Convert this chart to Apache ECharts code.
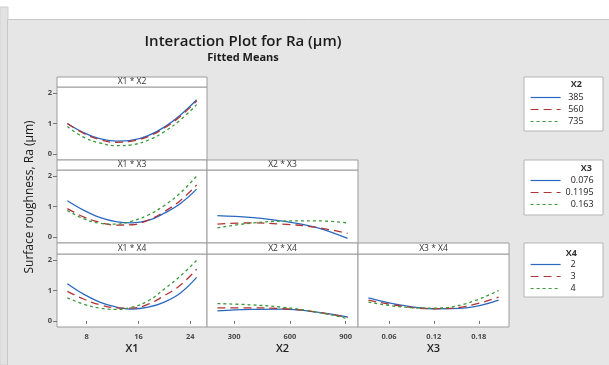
<!DOCTYPE html>
<html>
<head>
<meta charset="utf-8">
<script src="https://cdn.jsdelivr.net/npm/echarts@6/dist/echarts.min.js"></script>
<style>
  html, body { margin: 0; padding: 0; background: #fff; }
  #main { width: 609px; height: 365px; }
</style>
</head>
<body>
<div id="main"></div>
<script>
// factor settings (x positions of the fitted means)
const x1Values = [5, 7.5, 10, 12.5, 15, 17.5, 20, 22.5, 25];
const x2Values = [210, 385, 560, 735, 910];
const x3Values = [0.0325, 0.076, 0.1195, 0.163, 0.2065];

// legend levels
const x2Levels = ['385', '560', '735'];
const x3Levels = ['0.076', '0.1195', '0.163'];
const x4Levels = ['2', '3', '4'];

// X1 * X2 (one array per X2 level)
const x1x2Ra385 = [1.0, 0.70, 0.50, 0.42, 0.45, 0.60, 0.88, 1.28, 1.78];
const x1x2Ra560 = [1.0, 0.68, 0.47, 0.38, 0.42, 0.57, 0.85, 1.24, 1.74];
const x1x2Ra735 = [0.90, 0.55, 0.36, 0.27, 0.30, 0.45, 0.73, 1.12, 1.62];

// X1 * X3
const x1x3Ra0076 = [1.19, 0.88, 0.64, 0.50, 0.46, 0.54, 0.78, 1.10, 1.57];
const x1x3Ra01195 = [0.93, 0.66, 0.48, 0.39, 0.40, 0.55, 0.83, 1.20, 1.71];
const x1x3Ra0163 = [0.87, 0.60, 0.45, 0.42, 0.52, 0.72, 1.03, 1.45, 2.0];

// X1 * X4
const x1x4Ra2 = [1.22, 0.88, 0.62, 0.46, 0.39, 0.45, 0.62, 0.92, 1.43];
const x1x4Ra3 = [0.97, 0.72, 0.53, 0.43, 0.42, 0.55, 0.83, 1.18, 1.70];
const x1x4Ra4 = [0.76, 0.55, 0.42, 0.38, 0.45, 0.66, 1.05, 1.48, 1.99];

// X2 * X3
const x2x3Ra0076 = [0.70, 0.64, 0.52, 0.32, -0.05];
const x2x3Ra01195 = [0.42, 0.46, 0.42, 0.32, 0.12];
const x2x3Ra0163 = [0.30, 0.45, 0.52, 0.53, 0.46];

// X2 * X4
const x2x4Ra2 = [0.33, 0.38, 0.39, 0.30, 0.13];
const x2x4Ra3 = [0.43, 0.43, 0.40, 0.30, 0.11];
const x2x4Ra4 = [0.57, 0.53, 0.45, 0.30, 0.08];

// X3 * X4
const x3x4Ra2 = [0.76, 0.52, 0.40, 0.43, 0.68];
const x3x4Ra3 = [0.68, 0.49, 0.40, 0.48, 0.78];
const x3x4Ra4 = [0.62, 0.46, 0.42, 0.57, 1.0];

const yTicks = [0, 1, 2];
const x1Ticks = [8, 16, 24];
const x2Ticks = [300, 600, 900];
const x3Ticks = [0.06, 0.12, 0.18];

const dom = document.getElementById('main');
const myChart = echarts.init(dom, null, { renderer: 'canvas' });

const lineLooks = [
  { color: '#2a68c0', type: 'solid' },
  { color: '#b03434', type: [8, 5] },
  { color: '#3a9a3a', type: [3, 3] },
];

const colLeft = [57, 207, 358];
const colWidth = [150, 151, 151];
const headTop = [77, 160, 243];
const plotTop = [87, 170, 254];
const plotBottom = [160, 243, 327];

// panel: col, row, title, x range, x ticks (bottom row only), axis name
const panels = [
  { col: 0, row: 0, title: 'X1 * X2', min: 3.4, max: 26.6 },
  { col: 0, row: 1, title: 'X1 * X3', min: 3.4, max: 26.6 },
  { col: 0, row: 2, title: 'X1 * X4', min: 3.4, max: 26.6, ticks: x1Ticks, name: 'X1' },
  { col: 1, row: 1, title: 'X2 * X3', min: 154, max: 966 },
  { col: 1, row: 2, title: 'X2 * X4', min: 154, max: 966, ticks: x2Ticks, name: 'X2' },
  { col: 2, row: 2, title: 'X3 * X4', min: 0.0186, max: 0.2204, ticks: x3Ticks, name: 'X3' },
];

const seriesSets = [
  { grid: 0, xs: x1Values, names: x2Levels, ys: [x1x2Ra385, x1x2Ra560, x1x2Ra735] },
  { grid: 1, xs: x1Values, names: x3Levels, ys: [x1x3Ra0076, x1x3Ra01195, x1x3Ra0163] },
  { grid: 2, xs: x1Values, names: x4Levels, ys: [x1x4Ra2, x1x4Ra3, x1x4Ra4] },
  { grid: 3, xs: x2Values, names: x3Levels, ys: [x2x3Ra0076, x2x3Ra01195, x2x3Ra0163] },
  { grid: 4, xs: x2Values, names: x4Levels, ys: [x2x4Ra2, x2x4Ra3, x2x4Ra4] },
  { grid: 5, xs: x3Values, names: x4Levels, ys: [x3x4Ra2, x3x4Ra3, x3x4Ra4] },
];

const tickFont = { color: '#4a4a4a', fontSize: 7.5, fontWeight: 'bold', fontFamily: 'Open Sans' };

function getChartOptions() {
  const grid = panels.map((p) => ({
    left: colLeft[p.col],
    top: plotTop[p.row],
    width: colWidth[p.col],
    height: plotBottom[p.row] - plotTop[p.row],
    show: true,
    backgroundColor: '#fff',
    borderColor: '#9c9c9c',
    borderWidth: 1,
  }));

  const xAxis = panels.map((p, i) => ({
    type: 'value',
    gridIndex: i,
    min: p.min,
    max: p.max,
    name: p.name || '',
    nameLocation: 'middle',
    nameGap: 16,
    nameTextStyle: { color: '#222', fontSize: 11, fontWeight: 600, fontFamily: 'Open Sans' },
    axisLine: { show: false },
    splitLine: { show: false },
    axisTick: {
      show: !!p.ticks,
      length: 3,
      customValues: p.ticks || [],
      lineStyle: { color: '#777' },
    },
    axisLabel: {
      show: !!p.ticks,
      margin: 6,
      customValues: p.ticks || [],
      ...tickFont,
    },
  }));

  const yAxis = panels.map((p, i) => ({
    type: 'value',
    gridIndex: i,
    min: -0.2,
    max: 2.2,
    axisLine: { show: false },
    splitLine: { show: false },
    axisTick: {
      show: p.col === 0,
      length: 4,
      customValues: yTicks,
      lineStyle: { color: '#777' },
    },
    axisLabel: {
      show: p.col === 0,
      margin: 5,
      customValues: yTicks,
      ...tickFont,
    },
  }));

  const series = [];
  seriesSets.forEach((set) => {
    set.ys.forEach((ys, k) => {
      series.push({
        name: set.names[k],
        type: 'line',
        xAxisIndex: set.grid,
        yAxisIndex: set.grid,
        smooth: 0.4,
        symbol: 'none',
        silent: true,
        color: lineLooks[k].color,
        lineStyle: { color: lineLooks[k].color, type: lineLooks[k].type, width: 1.3 },
        data: set.xs.map((x, j) => [x, ys[j]]),
      });
    });
  });

  const legendBase = (names, top, textWidth) => ({
    data: names,
    orient: 'vertical',
    left: 530,
    top: top,
    padding: 0,
    itemWidth: 30,
    itemHeight: 10,
    itemGap: 3,
    selectedMode: false,
    itemStyle: { opacity: 0, borderWidth: 0 },
    lineStyle: { width: 1.2 },
    formatter: (name) => `{a|${name}}`,
    textStyle: {
      rich: {
        a: { width: textWidth, align: 'right', fontSize: 9, color: '#222', fontFamily: 'Open Sans', lineHeight: 10 },
      },
    },
  });

  const headers = [];
  panels.forEach((p) => {
    headers.push({
      type: 'rect',
      z: 3,
      shape: { x: colLeft[p.col], y: headTop[p.row], width: colWidth[p.col], height: plotTop[p.row] - headTop[p.row] },
      style: { fill: '#fff', stroke: '#9c9c9c', lineWidth: 1 },
    });
    headers.push({
      type: 'text',
      z: 4,
      x: colLeft[p.col] + colWidth[p.col] / 2,
      y: (headTop[p.row] + plotTop[p.row]) / 2,
      style: {
        text: p.title, fill: '#333', fontSize: 8.5, fontFamily: 'Open Sans',
        textAlign: 'center', textVerticalAlign: 'middle',
      },
    });
  });

  const legendBoxes = [
    { top: 77, height: 54, title: 'X2', right: 582, y: 84 },
    { top: 160, height: 55, title: 'X3', right: 592, y: 168 },
    { top: 243, height: 54, title: 'X4', right: 577, y: 253 },
  ];
  const legendGraphics = [];
  legendBoxes.forEach((b) => {
    legendGraphics.push({
      type: 'rect',
      z: 3,
      shape: { x: 524, y: b.top, width: 79, height: b.height },
      style: { fill: '#fff', stroke: '#b4b4b4', lineWidth: 1 },
    });
    legendGraphics.push({
      type: 'text',
      z: 4,
      x: b.right,
      y: b.y,
      style: {
        text: b.title, fill: '#333', fontSize: 9, fontWeight: 'bold', fontFamily: 'Open Sans',
        textAlign: 'right', textVerticalAlign: 'middle',
      },
    });
  });

  return {
    animation: false,
    backgroundColor: '#fff',
    title: {
      text: 'Interaction Plot for Ra (µm)',
      subtext: 'Fitted Means',
      left: 243,
      top: 34,
      textAlign: 'center',
      itemGap: 3,
      padding: 0,
      textStyle: { color: '#1a1a1a', fontSize: 15, fontWeight: 600, fontFamily: 'Open Sans' },
      subtextStyle: { color: '#1a1a1a', fontSize: 11, fontWeight: 'bold', fontFamily: 'Open Sans' },
    },
    legend: [
      legendBase(x2Levels, 93, 18),
      legendBase(x3Levels, 176, 28),
      legendBase(x4Levels, 260, 10),
    ],
    grid,
    xAxis,
    yAxis,
    series,
    graphic: [
      {
        type: 'rect',
        z: -10,
        shape: { x: 0, y: 7, width: 8, height: 358 },
        style: { fill: '#e2e2e2', stroke: '#cfcfcf', lineWidth: 1 },
      },
      {
        type: 'rect',
        z: -9,
        shape: { x: 7.5, y: 19.5, width: 605, height: 350 },
        style: { fill: '#e6e6e6', stroke: '#c8c8c8', lineWidth: 1 },
      },
      ...headers,
      ...legendGraphics,
      {
        type: 'text',
        z: 4,
        x: 30,
        y: 197,
        rotation: Math.PI / 2,
        style: {
          text: 'Surface roughness, Ra (µm)', fill: '#1a1a1a', fontSize: 12, fontFamily: 'Open Sans',
          textAlign: 'center', textVerticalAlign: 'middle',
        },
      },
    ],
  };
}

myChart.setOption(getChartOptions());
</script>
</body>
</html>
